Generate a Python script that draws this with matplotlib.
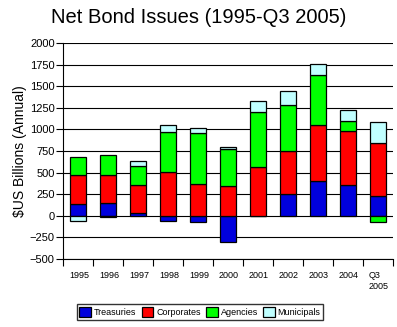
import numpy as np
import matplotlib.pyplot as plt
import matplotlib.transforms as mtrans

plt.rcParams["font.family"] = ["Liberation Sans", "DejaVu Sans"]

# 数据 (十亿美元, 年度)
years = ["1995", "1996", "1997", "1998", "1999", "2000",
         "2001", "2002", "2003", "2004", "Q3\n2005"]
treasuries = [141, 153, 27, -57, -69, -298, 0, 252, 401, 355, 229]
corporates = [329, 317, 328, 504, 367, 344, 565, 493, 653, 630, 619]
agencies = [206, 229, 218, 470, 596, 424, 638, 538, 573, 115, -69]
municipals = [-57, -10, 57, 80, 57, 34, 126, 161, 126, 126, 241]

series = [("Treasuries", treasuries, "#0000dd"),
          ("Corporates", corporates, "#ff0000"),
          ("Agencies", agencies, "#00ff00"),
          ("Municipals", municipals, "#c0ffff")]


def draw():
    fig = plt.figure(figsize=(3.97, 3.27), dpi=100)
    ax = fig.add_axes([63 / 397, (327 - 259) / 327, 330 / 397, (259 - 43) / 327])
    x = np.arange(len(years))
    pos_bottom = np.zeros(len(years))
    neg_bottom = np.zeros(len(years))

    #  正负分开堆叠
    for name, vals, color in series:
        vals = np.array(vals, dtype=float)
        bottom = np.where(vals >= 0, pos_bottom, neg_bottom)
        ax.bar(x, vals, bottom=bottom, width=0.53, color=color,
               edgecolor="black", linewidth=0.9, label=name, zorder=3)
        pos_bottom += np.where(vals >= 0, vals, 0)
        neg_bottom += np.where(vals < 0, vals, 0)

    ax.set_xlim(-0.5, len(years) - 0.5)
    ax.set_ylim(-500, 2000)
    ax.set_yticks(np.arange(-500, 2001, 250))
    ax.tick_params(axis="y", labelsize=8, length=5, width=0.8, pad=1)
    ax.set_xticks(x)
    ax.set_xticklabels(years, fontsize=6.5, va="top", ha="left")
    ax.tick_params(axis="x", which="major", length=0, pad=9)
    ax.set_xticks(np.arange(-0.5, len(years)), minor=True)
    ax.tick_params(axis="x", which="minor", length=5, width=0.8)
    # 标签左对齐偏移
    off = mtrans.ScaledTranslation(-9 / 100, 0, fig.dpi_scale_trans)
    for lab in ax.get_xticklabels():
        lab.set_transform(lab.get_transform() + off)

    ax.grid(axis="y", color="black", linewidth=0.8, zorder=0)
    ax.set_axisbelow(True)
    for s in ["top", "right"]:
        ax.spines[s].set_visible(False)
    ax.spines["left"].set_linewidth(0.8)
    ax.spines["bottom"].set_linewidth(0.8)

    ax.set_ylabel("$US Billions (Annual)", fontsize=10, labelpad=2)
    fig.text(0.5, 0.945, "Net Bond Issues (1995-Q3 2005)", fontsize=14.5,
             ha="center", va="center")

    fig.legend(loc="center", bbox_to_anchor=(200 / 397, 1 - 312 / 327),
               ncol=4, fontsize=6.5, frameon=True, fancybox=False,
               edgecolor="black", handlelength=1.3, handleheight=1.3,
               handletextpad=0.3, columnspacing=0.6, borderpad=0.3,
               borderaxespad=0)
    fig.savefig("out.png", dpi=100)


if __name__ == '__main__':
    draw()
